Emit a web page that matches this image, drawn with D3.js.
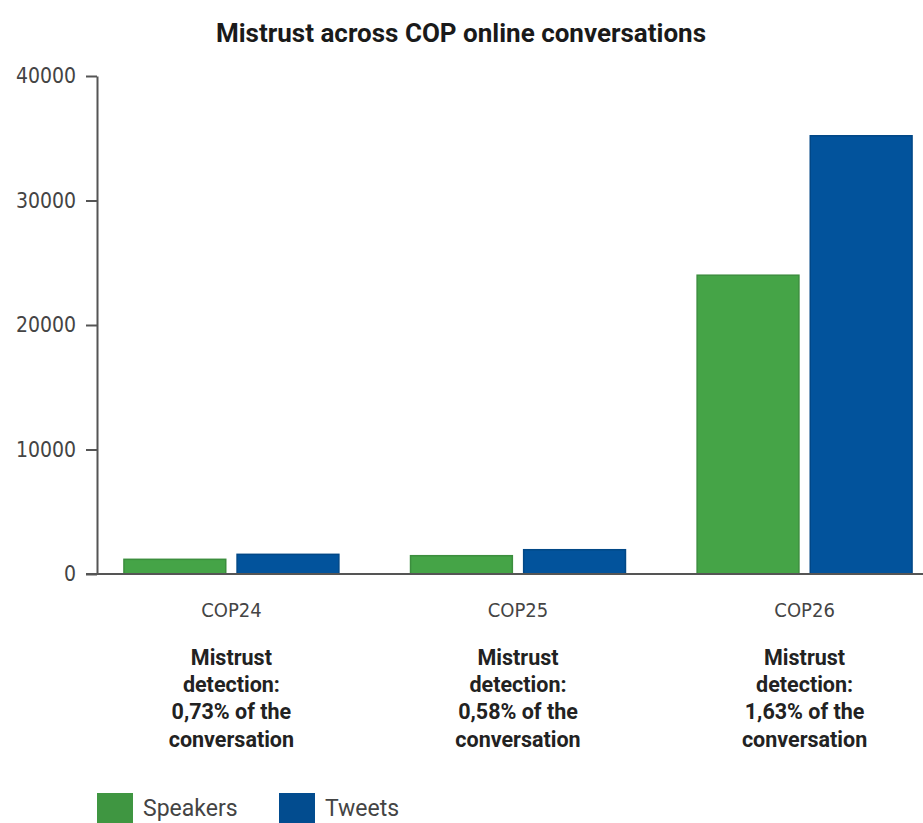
<!DOCTYPE html>
<html>
<head>
<meta charset="utf-8">
<script src="https://cdn.jsdelivr.net/npm/d3@7"></script>
<style>
  html, body { margin: 0; padding: 0; background: #fff; }
  svg { display: block; }
  .axis path, .axis line { stroke: #555; stroke-width: 2; }
  .axis text { font-family: "Liberation Sans Narrow", "DejaVu Sans Condensed", sans-serif; fill: #444; }
</style>
</head>
<body>
<svg id="chart" width="923" height="823"></svg>
<script>
// Mistrust volumes per COP edition
const categories = ["COP24", "COP25", "COP26"];
const speakers = [1180, 1470, 24000];
const tweets = [1580, 1950, 35200];
const yTicks = [0, 10000, 20000, 30000, 40000];
const shares = ["0,73%", "0,58%", "1,63%"];
const seriesNames = ["Speakers", "Tweets"];
const seriesColors = ["#45a447", "#02539c"];

const svg = d3.select("#chart");
const W = 923;

const margin = { left: 97, top: 76, bottom: 574 };

const y = d3.scaleLinear().domain([0, 40000]).range([margin.bottom, margin.top]);

const x = d3.scaleBand()
  .domain(categories)
  .range([margin.left, 939])
  .paddingInner(0.25)
  .paddingOuter(0.094);

const x1 = d3.scaleBand()
  .domain(seriesNames)
  .range([0, x.bandwidth()])
  .paddingInner(0.1);

const color = d3.scaleOrdinal().domain(seriesNames).range(seriesColors);

// Title
svg.append("text")
  .attr("x", 461)
  .attr("y", 42)
  .attr("text-anchor", "middle")
  .style("font-family", "Roboto, sans-serif")
  .style("font-weight", "700")
  .style("font-size", "26px")
  .style("fill", "#1a1a1a")
  .text("Mistrust across COP online conversations");

// Bars
const rows = categories.map((c, i) => ({ cat: c, values: [
  { key: "Speakers", value: speakers[i] },
  { key: "Tweets", value: tweets[i] }
]}));

const groups = svg.append("g").selectAll("g")
  .data(rows)
  .join("g")
  .attr("transform", d => `translate(${x(d.cat)},0)`);

groups.selectAll("rect")
  .data(d => d.values)
  .join("rect")
  .attr("x", d => x1(d.key))
  .attr("y", d => y(d.value))
  .attr("width", x1.bandwidth())
  .attr("height", d => y(0) - y(d.value))
  .attr("fill", d => color(d.key))
  .attr("stroke", d => d3.color(color(d.key)).darker(0.4))
  .attr("stroke-width", 1.5);

// Y axis
const yAxis = d3.axisLeft(y)
  .tickValues(yTicks)
  .tickFormat(d3.format("d"))
  .tickSize(11)
  .tickSizeOuter(0)
  .tickPadding(10);

const gy = svg.append("g")
  .attr("class", "axis")
  .attr("transform", `translate(${margin.left},0)`)
  .call(yAxis);
gy.selectAll("text").style("font-size", "21px");

// Baseline across the plot
svg.append("line")
  .attr("x1", margin.left - 11)
  .attr("x2", W)
  .attr("y1", y(0))
  .attr("y2", y(0))
  .attr("stroke", "#555")
  .attr("stroke-width", 2);

// Category labels
const xAxis = d3.axisBottom(x).tickSize(0).tickPadding(29);
const gx = svg.append("g")
  .attr("class", "axis")
  .attr("transform", `translate(0,${y(0)})`)
  .call(xAxis);
gx.select(".domain").remove();
gx.selectAll("text").style("font-size", "20px");

// Notes under each category
const notes = svg.append("g")
  .selectAll("text")
  .data(categories.map((c, i) => ({ cat: c, share: shares[i] })))
  .join("text")
  .attr("text-anchor", "middle")
  .style("font-family", "Roboto, sans-serif")
  .style("font-weight", "700")
  .style("font-size", "21.5px")
  .style("fill", "#222");

notes.each(function(d) {
  const lines = ["Mistrust", "detection:", `${d.share} of the`, "conversation"];
  const cx = x(d.cat) + x.bandwidth() / 2;
  d3.select(this).selectAll("tspan")
    .data(lines)
    .join("tspan")
    .attr("x", cx)
    .attr("y", (l, j) => 665 + j * 27.2)
    .text(l => l);
});

// Legend
const legend = svg.append("g").attr("transform", "translate(97,793)");
const items = legend.selectAll("g")
  .data(seriesNames)
  .join("g")
  .attr("transform", (d, i) => `translate(${i * 182},0)`);
items.append("rect")
  .attr("width", 36)
  .attr("height", 30)
  .attr("fill", d => d3.color(color(d)).darker(0.25));
items.append("text")
  .attr("x", 46)
  .attr("y", 23)
  .style("font-family", "Roboto, sans-serif")
  .style("font-size", "23px")
  .style("fill", "#444")
  .text(d => d);
</script>
</body>
</html>
